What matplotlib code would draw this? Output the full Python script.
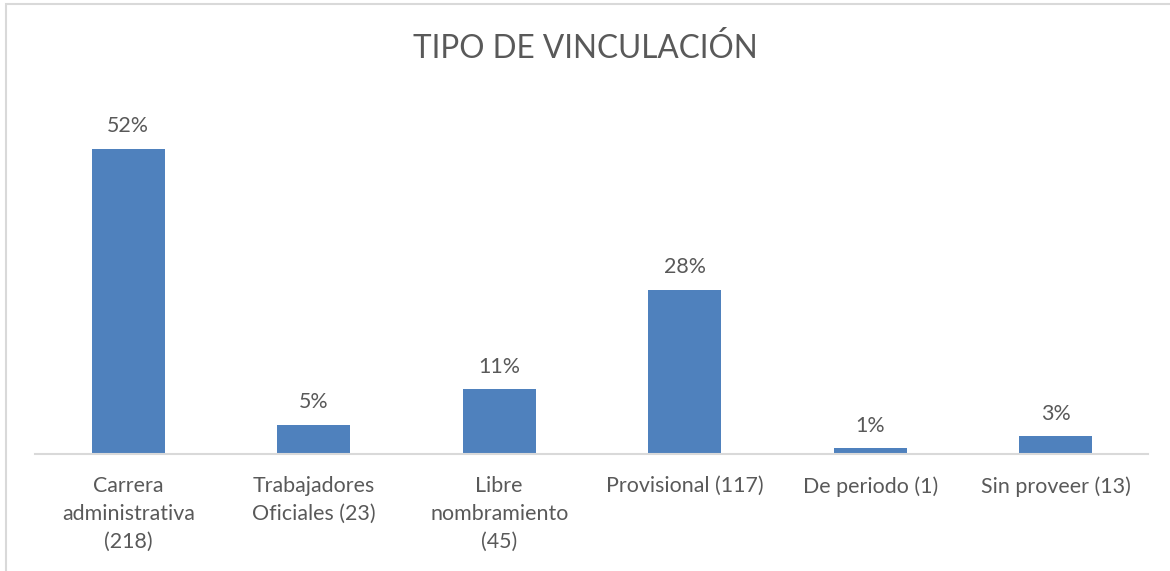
import matplotlib
matplotlib.use('Agg')
import matplotlib.pyplot as plt
from matplotlib.patches import Rectangle

# Data
categories = ['Carrera\nadministrativa\n(218)', 'Trabajadores\nOficiales (23)',
              'Libre\nnombramiento\n(45)', 'Provisional (117)',
              'De periodo (1)', 'Sin proveer (13)']
shares = [0.52, 0.05, 0.11, 0.28, 0.01, 0.03]
title = 'TIPO DE VINCULACIÓN'

bar_color = '#4f81bd'
text_color = '#595959'

plt.rcParams['font.family'] = ['Lato', 'DejaVu Sans']

fig = plt.figure(figsize=(11.7, 5.71), dpi=100)
ax = fig.add_axes([0.0303, 0.2049, 0.9513, 0.6165])

x = list(range(len(categories)))
bars = ax.bar(x, shares, width=0.395, color=bar_color)

for xi, v in zip(x, shares):
    ax.annotate(f'{v:.0%}', (xi, v), xytext=(0, 9), textcoords='offset points',
                ha='center', va='bottom', fontsize=15.4, color=text_color)

ax.set_xlim(-0.5, len(categories) - 0.5)
ax.set_ylim(0, 0.6)
ax.set_xticks(x)
ax.set_xticklabels(categories, fontsize=15.4, color=text_color, linespacing=1.5)
ax.tick_params(axis='x', length=0, pad=16)
ax.set_yticks([])
for side in ['top', 'right', 'left']:
    ax.spines[side].set_visible(False)
ax.spines['bottom'].set_color('#d9d9d9')
ax.spines['bottom'].set_linewidth(1.5)

fig.text(0.5, 1 - 48 / 571, title, ha='center', va='center',
         fontsize=22.7, color=text_color)

# chart frame (only left/top edges visible in the crop)
fig.patches.append(Rectangle((6 / 1170, -0.1), 1.2, 1 - 4 / 571 + 0.1,
                             transform=fig.transFigure, fill=False,
                             edgecolor='#d9d9d9', linewidth=1.5))

fig.savefig('out.png', dpi=100)
